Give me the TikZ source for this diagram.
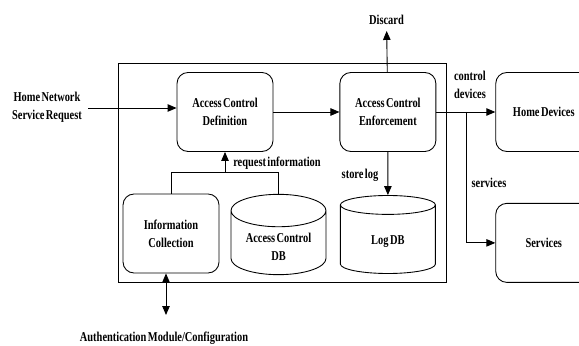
\documentclass[tikz,border=0pt]{standalone}
\usepackage{fontspec}
\setmainfont[FakeStretch=0.77, WordSpace=0.55]{Liberation Serif}
\usetikzlibrary{shapes.geometric, arrows.meta, positioning}

\begin{document}
\begin{tikzpicture}[
    every node/.style={align=center, font=\fontsize{7.7}{10.2}\selectfont\bfseries},
    frame/.style={rectangle, minimum width=6.56cm, minimum height=4.38cm, draw=black, line width=0.5pt},
    proc/.style={rectangle, rounded corners=0.22cm, minimum width=1.92cm, minimum height=1.58cm, draw=black, line width=0.5pt},
    store/.style={cylinder, shape border rotate=90, aspect=0.42, minimum width=1.9cm, minimum height=1.56cm, draw=black, line width=0.5pt, anchor=shape center},
    arrow/.style={line width=0.5pt,-{Triangle[length=0.18cm,width=0.15cm]}}
]
\useasboundingbox (0,0) rectangle (11.58,6.9);

% System frame
\node (system) [frame] at (5.64,3.45) {};

% Processing blocks
\node (def) [proc] at (4.5,4.66) {Access Control\\Definition};
\node (enf) [proc, right=1.32cm of def] {Access Control\\Enforcement};
\node (home) [proc, right=1.18cm of enf] {Home Devices};
\node (services) [proc, below=1.02cm of home] {Services};
\node (info) [proc] at (3.42,2.23) {Information\\Collection};

% Databases
\node (acdb) [store] at (5.57,2.21) {Access Control\\DB};
\node (logdb) [store] at (enf |- acdb.shape center) {Log DB};

% Outside labels
\node (request) at (0.94,4.76) {Home Network\\Service Request};
\node (discard) at (7.73,6.5) {Discard};
\node (auth) at (3.28,0.14) {Authentication Module/Configuration};

% Connector labels
\node (ctrllabel) [align=left] at (9.4,5.2) {control\\devices};
\node (svclabel) at (9.78,3.24) {services};
\node (loglabel) at (7.2,3.4) {store log};
\node (infolabel) at (5.54,3.64) {request information};

% Helper points
\coordinate [below=0.42cm of def.south] (fork);
\coordinate [right=0.6cm of enf.east] (split);
\coordinate (authend) at (3.32,0.6);

% Arrows
\draw [arrow] (request.east |- 0,4.74) -- (def.west |- 0,4.74);
\draw [arrow] (def) -- (enf);
\draw [arrow] (enf) -- (home);
\draw [arrow] (split) |- (services);
\draw [arrow] (enf) -- (discard);
\draw [arrow] (enf) -- (logdb.north);
\draw [line width=0.5pt] (info.north) |- (fork) -| (acdb.north);
\draw [arrow] (fork) -- (def);
\draw [arrow, {Triangle[length=0.18cm,width=0.15cm]}-{Triangle[length=0.18cm,width=0.15cm]}] (authend |- info.south) -- (authend);

\end{tikzpicture}
\end{document}
